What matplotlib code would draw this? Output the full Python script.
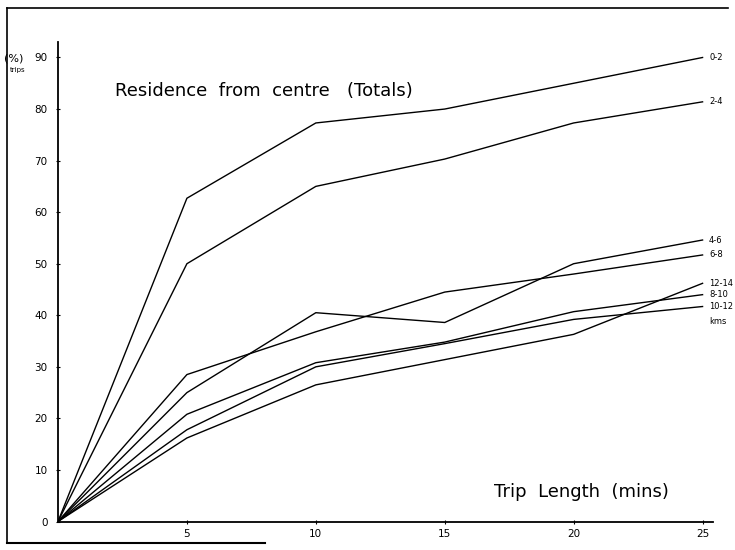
import matplotlib
matplotlib.use("Agg")
from matplotlib import pyplot as plt
from matplotlib.lines import Line2D

# trip length (mins)
minutes = [0, 5, 10, 15, 20, 25]

# cumulative % of trips, by residence distance band from centre (kms)
band_labels = ["0-2", "2-4", "4-6", "6-8", "8-10", "10-12", "12-14"]
band_0_2 = [0, 62.7, 77.3, 80.0, 85.0, 90.0]
band_2_4 = [0, 50.0, 65.0, 70.3, 77.3, 81.4]
band_4_6 = [0, 25.0, 40.5, 38.6, 50.0, 54.6]
band_6_8 = [0, 28.5, 36.8, 44.5, 48.0, 51.7]
band_8_10 = [0, 20.8, 30.8, 34.8, 40.7, 44.0]
band_10_12 = [0, 17.8, 30.0, 34.5, 39.2, 41.7]
band_12_14 = [0, 16.2, 26.5, 31.4, 36.3, 46.2]

y_ticks = [0, 10, 20, 30, 40, 50, 60, 70, 80, 90]
x_ticks = [5, 10, 15, 20, 25]


def main():
    plt.rcParams['font.family'] = ['DejaVu Sans']
    fig = plt.figure(figsize=(7.35, 5.5), dpi=100)
    ax = fig.add_axes([0.0789, 0.0518, 0.891, 0.8718])

    series = [band_0_2, band_2_4, band_4_6, band_6_8,
              band_8_10, band_10_12, band_12_14]
    for values, label in zip(series, band_labels):
        ax.plot(minutes, values, color='black', linewidth=1.0)
        ax.text(25.25, values[-1], label, fontsize=6, va='center', ha='left')
    ax.text(25.25, 38.8, "kms", fontsize=6, va='center', ha='left')

    ax.set_xlim(0, 25.4)
    ax.set_ylim(0, 93)
    ax.set_xticks(x_ticks)
    ax.set_yticks(y_ticks)
    ax.tick_params(axis='both', direction='inout', length=3, width=0.8,
                   labelsize=7.5)
    ax.tick_params(axis='x', pad=4)
    ax.tick_params(axis='y', pad=6)
    for side in ['top', 'right']:
        ax.spines[side].set_visible(False)
    for side in ['left', 'bottom']:
        ax.spines[side].set_linewidth(1.3)

    ax.text(2.2, 83.5, "Residence  from  centre   (Totals)", fontsize=13,
            va='center', ha='left')
    ax.text(16.9, 5.7, "Trip  Length  (mins)", fontsize=13,
            va='center', ha='left')

    fig.text(0.005, 0.894, "(%)", fontsize=8, va='center', ha='left')
    fig.text(0.014, 0.872, "trips", fontsize=5, va='center', ha='left')

    # scanned page frame
    fig.add_artist(Line2D([0.01, 0.99], [0.985, 0.985], color='black', lw=1.2))
    fig.add_artist(Line2D([0.009, 0.009], [0.985, 0.013], color='black', lw=1.2))
    fig.add_artist(Line2D([0.009, 0.36], [0.013, 0.013], color='black', lw=1.5))

    fig.savefig("out.png", dpi=100)


if __name__ == "__main__":
    main()
